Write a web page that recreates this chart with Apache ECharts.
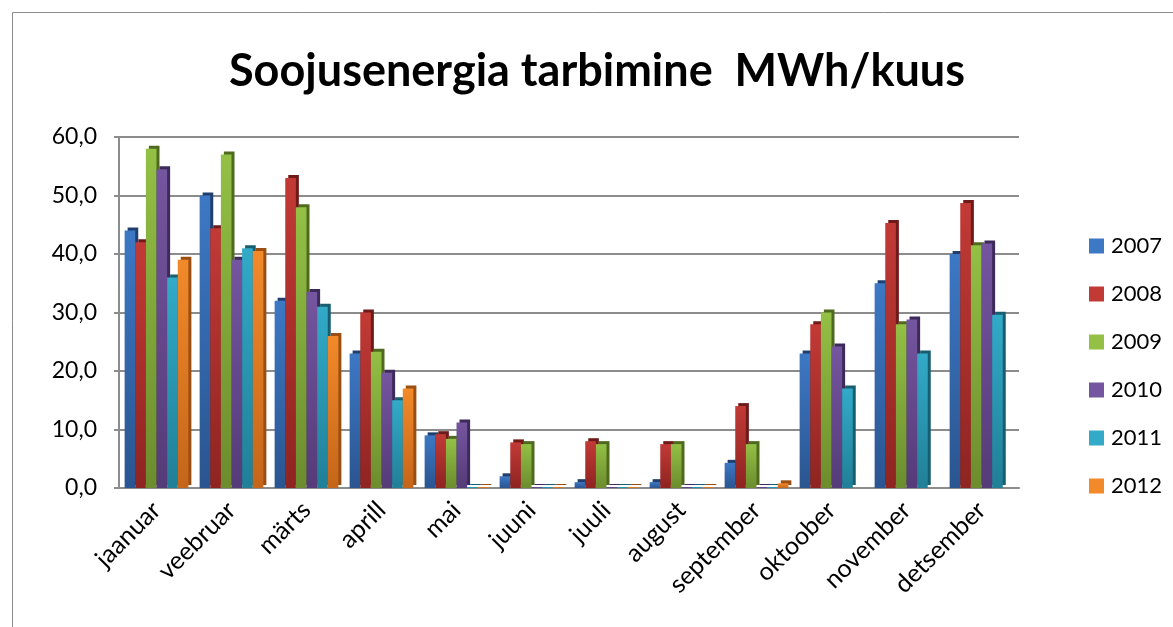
<!DOCTYPE html>
<html>
<head>
<meta charset="utf-8">
<script src="https://cdn.jsdelivr.net/npm/echarts@6/dist/echarts.min.js"></script>
<style>
  html, body { margin: 0; padding: 0; background: #fff; }
  #chart { width: 1173px; height: 627px; }
</style>
</head>
<body>
<div id="chart"></div>
<script>
// months (categories)
const months = ['jaanuar', 'veebruar', 'märts', 'aprill', 'mai', 'juuni', 'juuli', 'august', 'september', 'oktoober', 'november', 'detsember'];

// MWh per month, one array per year (null = no data)
const y2007 = [44.0, 50.0, 32.0, 23.0, 9.0, 2.0, 1.0, 1.0, 4.3, 23.0, 35.0, 40.0];
const y2008 = [42.0, 44.4, 53.0, 30.0, 9.2, 7.8, 8.0, 7.5, 14.0, 28.0, 45.3, 48.7];
const y2009 = [58.0, 57.0, 48.0, 23.3, 8.4, 7.5, 7.5, 7.5, 7.5, 30.0, 28.0, 41.5];
const y2010 = [54.5, 39.0, 33.5, 19.7, 11.2, 0, 0, 0, 0, 24.2, 28.8, 41.8];
const y2011 = [36.0, 41.0, 31.0, 15.0, 0, 0, 0, 0, 0, 17.0, 23.0, 29.6];
const y2012 = [39.0, 40.5, 26.0, 17.0, 0, 0, 0, 0, 0.8, null, null, null];

const years = ['2007', '2008', '2009', '2010', '2011', '2012'];
const yearData = [y2007, y2008, y2009, y2010, y2011, y2012];

// [light top, dark bottom, side shade]
const palette = [
  ['#3d78c4', '#2a5590', '#1f3f6e'],
  ['#c23a36', '#8e2421', '#6e1a18'],
  ['#93c045', '#6c8c2e', '#4f6a1f'],
  ['#74559f', '#553b78', '#3e2a5a'],
  ['#32aac8', '#217f97', '#175e70'],
  ['#f28a2a', '#c4651a', '#9a4e12']
];

const chart = echarts.init(document.getElementById('chart'));

const series = years.map((name, i) => ({
  name: name,
  type: 'bar',
  data: yearData[i],
  barGap: '0%',
  barCategoryGap: '15%',
  barMinHeight: 1,
  itemStyle: {
    color: new echarts.graphic.LinearGradient(0, 0, 0, 1, [
      { offset: 0, color: palette[i][0] },
      { offset: 1, color: palette[i][1] }
    ]),
    shadowColor: palette[i][2],
    shadowBlur: 0,
    shadowOffsetX: 3,
    shadowOffsetY: -3
  }
}));

chart.setOption({
  animation: false,
  textStyle: { fontFamily: 'Lato, "Liberation Sans", sans-serif' },
  title: {
    text: 'Soojusenergia tarbimine  MWh/kuus',
    left: 592,
    textAlign: 'center',
    top: 44,
    textStyle: { fontSize: 45, fontWeight: 'bold', color: '#000', fontFamily: 'Lato, sans-serif' }
  },
  legend: {
    orient: 'vertical',
    left: 1084,
    top: 230,
    itemWidth: 15,
    itemHeight: 15,
    itemGap: 26,
    icon: 'rect',
    data: years.map((y, i) => ({ name: y, itemStyle: { color: palette[i][0] } })),
    textStyle: { fontSize: 22, lineHeight: 22, color: '#000', padding: [0, 0, 0, 2] }
  },
  grid: { left: 119, right: 154, top: 137, bottom: 139, containLabel: false },
  xAxis: {
    type: 'category',
    data: months,
    axisTick: { show: false },
    axisLine: { lineStyle: { color: '#8c8c8c', width: 2 } },
    axisLabel: { rotate: 45, fontSize: 25, color: '#000', margin: 18 }
  },
  yAxis: {
    type: 'value',
    min: 0,
    max: 60,
    interval: 10,
    axisLine: { show: true, lineStyle: { color: '#8c8c8c', width: 2 } },
    axisTick: { show: true, length: 5, lineStyle: { color: '#8c8c8c', width: 2 } },
    splitLine: { lineStyle: { color: '#8c8c8c', width: 2 } },
    axisLabel: {
      fontSize: 23,
      color: '#000',
      margin: 22,
      formatter: v => v.toFixed(1).replace('.', ',')
    }
  },
  graphic: [{
    type: 'rect',
    shape: { x: 12.5, y: 12.5, width: 1300, height: 700 },
    style: { fill: 'none', stroke: '#8c8c8c', lineWidth: 1 },
    silent: true,
    z: -1
  }],
  series: series
});
</script>
</body>
</html>
